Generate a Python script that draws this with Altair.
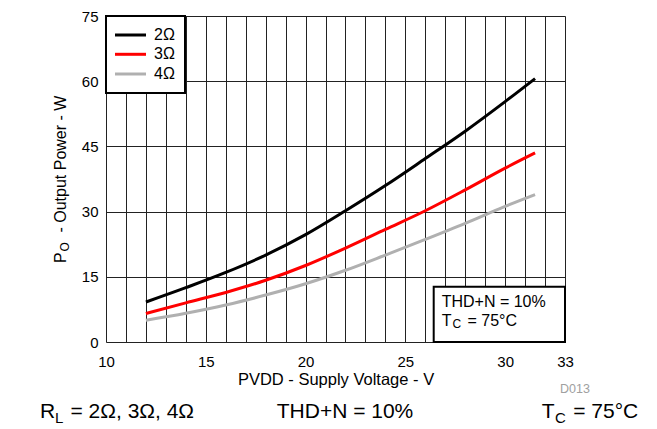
import altair as alt
import pandas as pd

FONT = "Liberation Sans"

# ---- data ----
voltage = [12, 14, 16, 18, 20, 22, 24, 26, 28, 30, 31.5]
p_2ohm = [9.2, 12.5, 16.0, 20.0, 24.7, 30.2, 36.0, 42.2, 48.5, 55.3, 60.6]
p_3ohm = [6.55, 9.0, 11.4, 14.2, 17.6, 21.6, 25.9, 30.2, 35.0, 40.0, 43.5]
p_4ohm = [5.0, 6.6, 8.5, 10.8, 13.4, 16.5, 20.0, 23.6, 27.3, 31.2, 33.9]
series_names = ["2Ω", "3Ω", "4Ω"]
series_colors = ["#000000", "#ff0000", "#b0b0b0"]
x_ticks = [10, 15, 20, 25, 30, 33]
x_grid = list(range(10, 34))
y_ticks = [0, 15, 30, 45, 60, 75]

rows = []
for name, vals in zip(series_names, [p_2ohm, p_3ohm, p_4ohm]):
    for v, p in zip(voltage, vals):
        rows.append({"series": name, "V": v, "P": p})
df = pd.DataFrame(rows)

label_expr = "indexof([" + ",".join(str(t) for t in x_ticks) + "], datum.value) >= 0 ? datum.label : ''"

lines = alt.Chart(df).mark_line(strokeWidth=3, interpolate="monotone", clip=True).encode(
    x=alt.X("V:Q",
            scale=alt.Scale(domain=[10, 33], nice=False, zero=False),
            axis=alt.Axis(values=x_grid, labelExpr=label_expr, title="PVDD - Supply Voltage - V",
                          grid=True, ticks=False, domain=False, labelFontSize=15, labelPadding=12,
                          labelFlush=False, labelOverlap=False, titleFontSize=16.5, titlePadding=2,
                          titleFontWeight="normal", gridColor="#222222", gridWidth=1, gridOpacity=1,
                          labelColor="black", titleColor="black", labelFont=FONT, titleFont=FONT)),
    y=alt.Y("P:Q",
            scale=alt.Scale(domain=[0, 75], nice=False),
            axis=alt.Axis(values=y_ticks, title=None, grid=True, ticks=False, domain=False,
                          labelFontSize=15, labelPadding=8, gridColor="#222222", gridWidth=1,
                          gridOpacity=1, labelColor="black", labelFont=FONT, labelFlush=False)),
    color=alt.Color("series:N", scale=alt.Scale(domain=series_names, range=series_colors), legend=None),
    detail="series:N",
)


def one():
    return pd.DataFrame({"t": ["x"]})


def label(txt, x, y, size, align="left", baseline="alphabetic", angle=0, color="black"):
    return alt.Chart(pd.DataFrame({"t": [txt]})).mark_text(
        align=align, baseline=baseline, fontSize=size, angle=angle, color=color, font=FONT
    ).encode(text="t:N", x=alt.value(x), y=alt.value(y))


def box(x, x2, y, y2):
    return alt.Chart(one()).mark_rect(fill="white", stroke="black", strokeWidth=2).encode(
        x=alt.value(x), x2=alt.value(x2), y=alt.value(y), y2=alt.value(y2))


def seg(x, x2, y, color):
    return alt.Chart(one()).mark_rule(color=color, strokeWidth=3).encode(
        x=alt.value(x), x2=alt.value(x2), y=alt.value(y))


layers = [lines]

# legend box (top-left inside plot)
layers.append(box(0, 79, 0, 77))
leg_y = [19, 38.3, 58]
for name, col, yy in zip(series_names, series_colors, leg_y):
    layers.append(seg(9, 40, yy, col))
    layers.append(label(name, 48, yy, 16, baseline="middle"))

# annotation box (bottom-right inside plot)
layers.append(box(327.7, 459, 270.7, 326))
layers.append(label("THD+N = 10%", 335.7, 291.3, 16))
layers.append(label("T", 335.7, 309.7, 16))
layers.append(label("C", 346.5, 311.8, 12))
layers.append(label("= 75°C", 361.5, 309.7, 16))

# y axis title with subscript
layers.append(label("P", -40, 247, 16, angle=270))
layers.append(label("O", -37, 235.5, 12, angle=270))
layers.append(label("- Output Power - W", -40, 216.5, 16, angle=270))

# bottom conditions row
layers.append(label("R", -66, 402, 21))
layers.append(label("L", -51, 407, 15))
layers.append(label("= 2Ω, 3Ω, 4Ω", -35.5, 402, 21))
layers.append(label("THD+N = 10%", 239, 402, 21, align="center"))
layers.append(label("T", 435.7, 402, 21))
layers.append(label("C", 449, 407.3, 15))
layers.append(label("= 75°C", 532.3, 402, 21, align="right"))
layers.append(label("D013", 454, 377.3, 12.5, color="#a0a0a0"))

chart = alt.layer(*layers).properties(
    width=459,
    height=326,
    padding={"left": 98, "top": 8, "right": 80, "bottom": 86},
    autosize=alt.AutoSizeParams(type="none"),
    background="white",
).configure_view(
    stroke="black", strokeWidth=2
).configure(font=FONT)

chart.save("out.html", embed_options={"renderer": "svg", "actions": False})
